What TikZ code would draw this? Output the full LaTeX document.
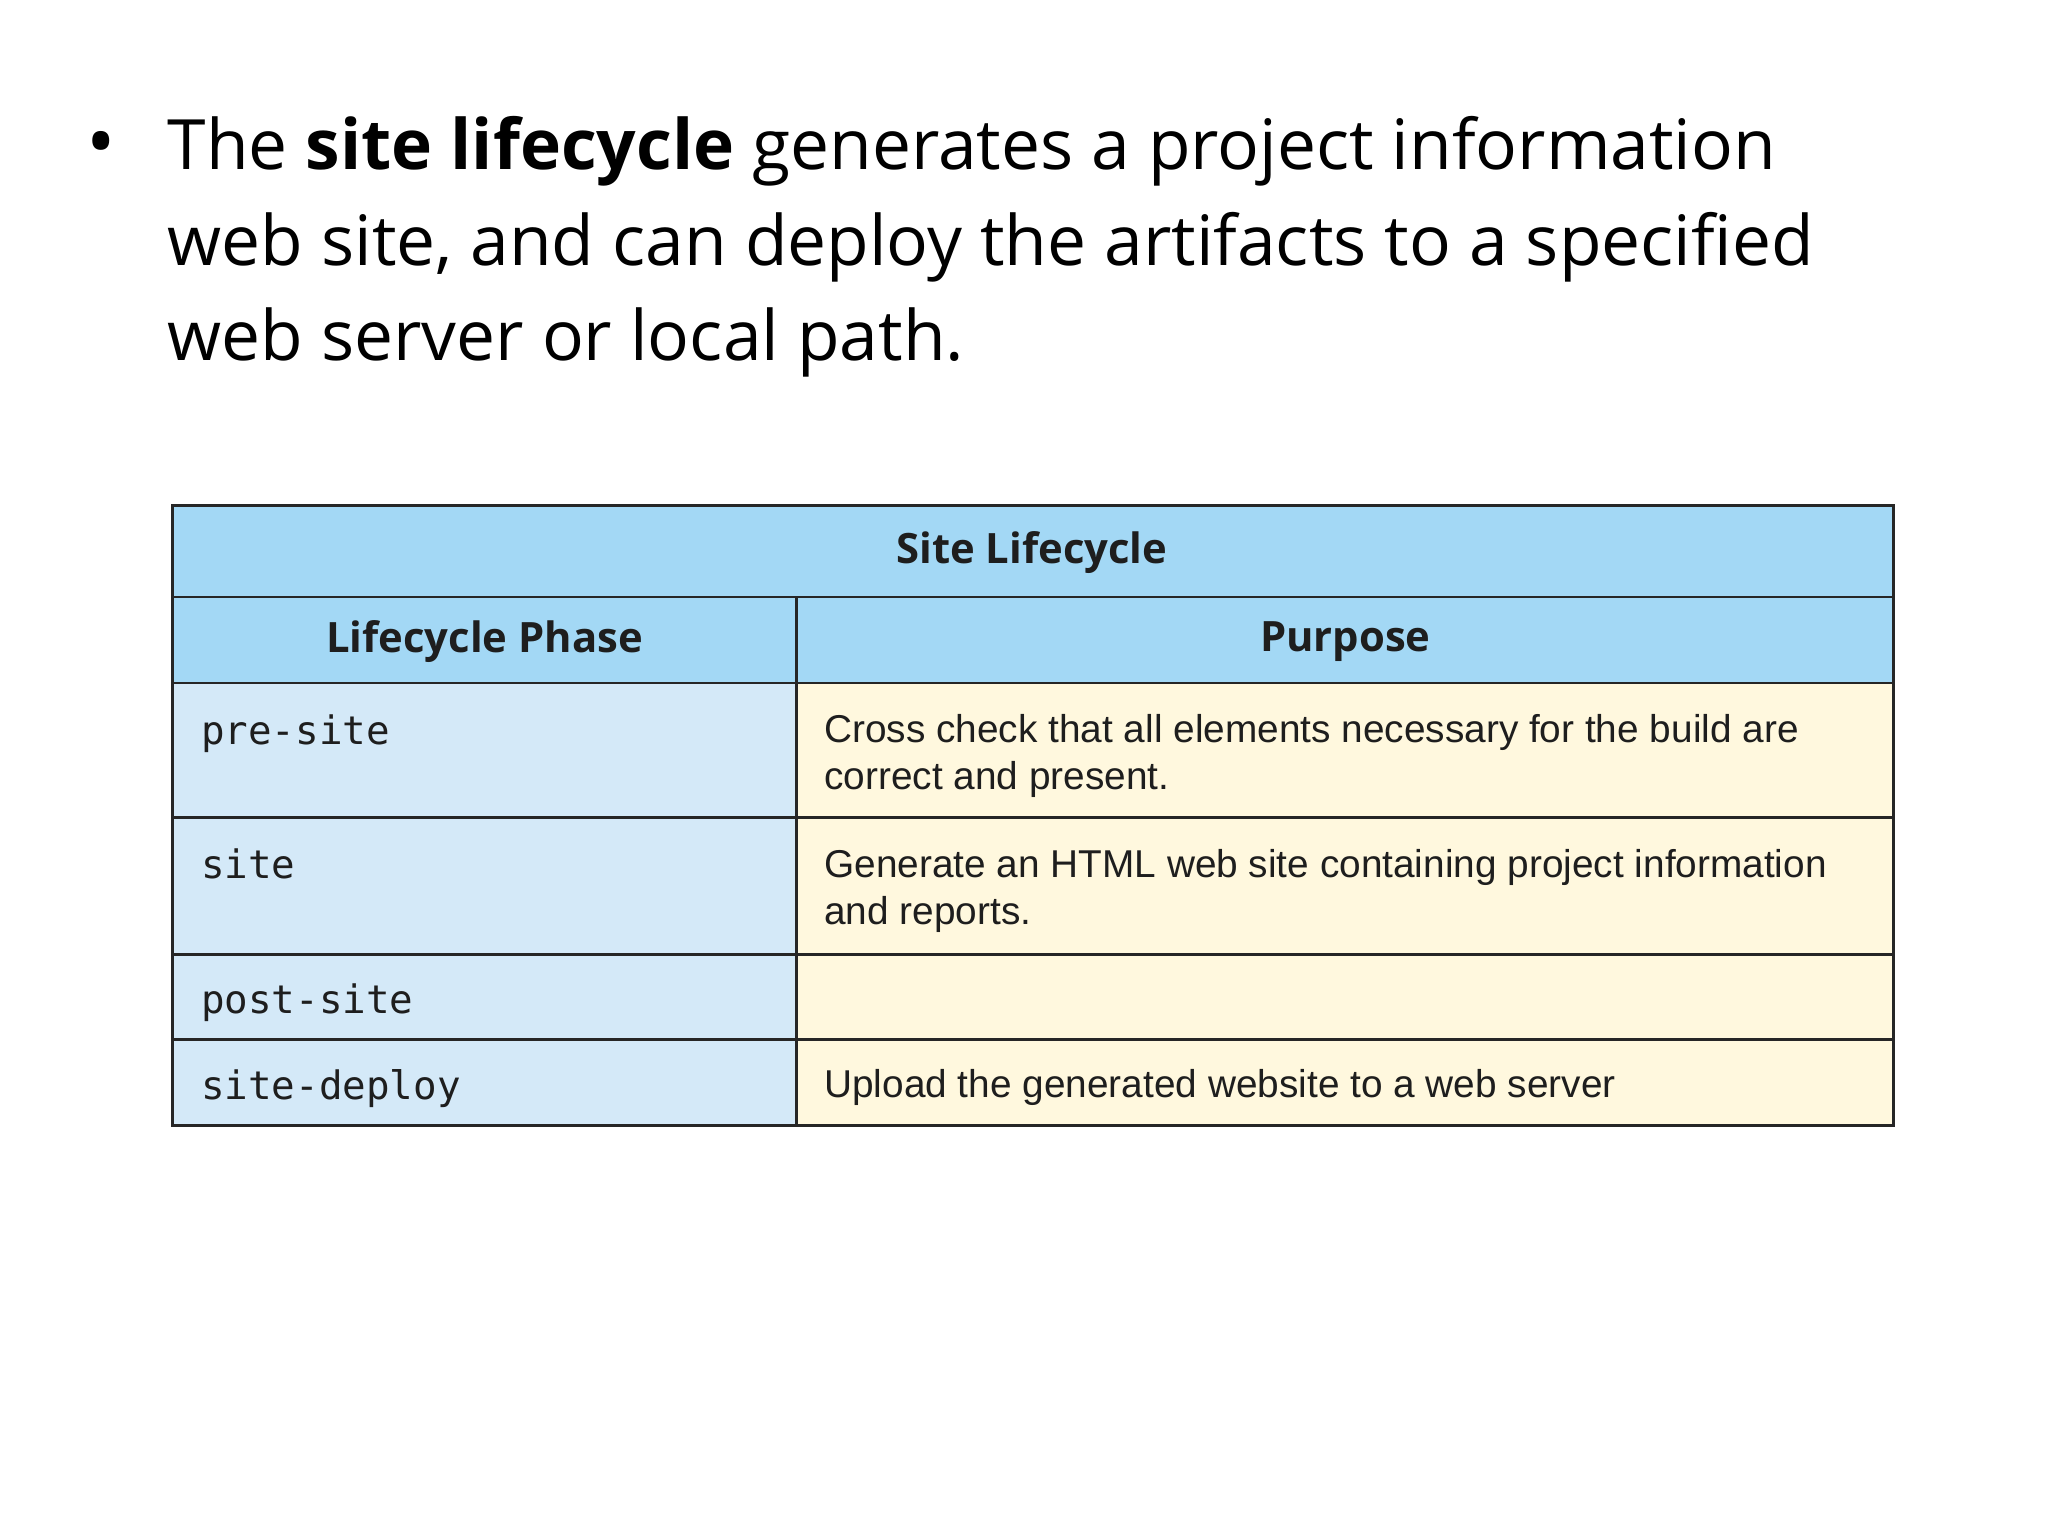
\documentclass[tikz,border=0pt]{standalone}
\usepackage{fontspec}
\setmainfont{Open Sans}[Ligatures=NoCommon]
\newfontfamily\purp{Liberation Sans}
\newfontfamily\monof{DejaVu Sans Mono}
\definecolor{hdr}{RGB}{163,216,245}
\definecolor{lcell}{RGB}{212,233,248}
\definecolor{rcell}{RGB}{255,248,222}
\definecolor{txt}{RGB}{30,30,30}
\begin{document}
\begin{tikzpicture}[x=0.5pt,y=-0.5pt,
  hd/.style={font=\fontsize{16}{19}\selectfont\bfseries, text=txt},
  mono/.style={anchor=north west, font=\monof\fontsize{15}{18}\selectfont, text=txt},
  pur/.style={anchor=north west, align=left, font=\purp\fontsize{14.85}{18}\selectfont, text=txt},
  btxt/.style={anchor=base west, inner sep=0pt, font=\fontsize{26.6}{36.5}\selectfont}]
\useasboundingbox (0,0) rectangle (1568,1176);
\fill[white] (0,0) rectangle (1568,1176);
% bullet text
\node[btxt] (b) at (66,130) {\fontsize{30}{36}\selectfont•};
\node[btxt] (l1) at (128,130) {The \textbf{site lifecycle} generates a project information};
\node[btxt] (l2) at (128,203) {web site, and can deploy the artifacts to a specified};
\node[btxt] (l3) at (128,276) {web server or local path.};
% table fills
\fill[hdr] (132,387) rectangle (1450,523);
\fill[lcell] (132,523) rectangle (610,862);
\fill[rcell] (610,523) rectangle (1450,862);
\draw[line width=1.2pt,black!85] (132,387) rectangle (1450,862);
\foreach \yy in {457,523,626,731,796}{\draw[line width=1pt,black!85] (132,\yy) -- (1450,\yy);}
\draw[line width=1pt,black!85] (610,457) -- (610,862);
% texts
\node[hd] (t) at (790,423) {Site Lifecycle};
\node[hd] (h1) at (371,491) {Lifecycle Phase};
\node[hd] (h2) at (1030,491) {Purpose};
\node[mono] (p1) at (147,540) {pre-site};
\node[mono] (p2) at (147,643) {site};
\node[mono] (p3) at (147,746) {post-site};
\node[mono] (p4) at (147,812) {site-deploy};
\node[pur] (d1) at (624,540) {Cross check that all elements necessary for the build are\\correct and present.};
\node[pur] (d2) at (624,643) {Generate an HTML web site containing project information\\and reports.};
\node[pur] (d4) at (624,812) {Upload the generated website to a web server};
\end{tikzpicture}
\end{document}
